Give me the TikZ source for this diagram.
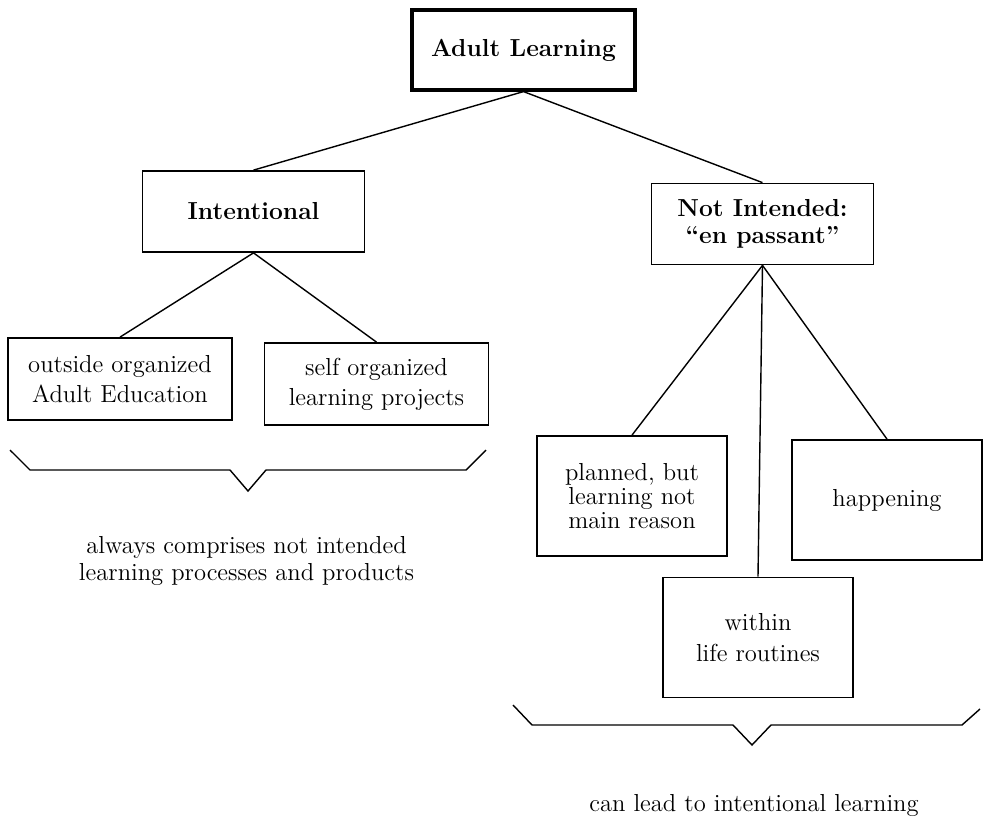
\documentclass[tikz,border=0pt]{standalone}
\usepackage{tikz}
\usetikzlibrary{shapes.geometric, arrows}
\tikzstyle{topbox} = [rectangle, minimum width=4.46cm, minimum height=1.6cm, text centered, draw=black, line width=1.8pt, font=\fontsize{14}{17}\selectfont\bfseries]
\tikzstyle{branch} = [rectangle, minimum width=4.44cm, minimum height=1.62cm, text centered, draw=black, line width=1pt, font=\fontsize{14}{15}\selectfont\bfseries]
\tikzstyle{leaf} = [rectangle, minimum width=4.48cm, minimum height=1.64cm, text centered, draw=black, line width=1pt, font=\fontsize{14}{17}\selectfont]
\tikzstyle{kind} = [rectangle, minimum width=3.8cm, minimum height=2.4cm, text centered, draw=black, line width=1pt, font=\fontsize{14}{18}\selectfont]
\tikzstyle{note} = [font=\fontsize{14}{15.5}\selectfont]
\tikzstyle{line} = [thick,-]
\tikzstyle{brace} = [thick,-]

\begin{document}
\begin{tikzpicture}
    \useasboundingbox (0,0) rectangle (19.68,-16.48);

    \node (adult) [topbox, align=center] at (10.47,-1.0) {Adult Learning};
    \node (intent) [branch, align=center] at (5.07,-4.23) {Intentional};
    \node (notint) [branch, align=center] at (15.25,-4.48) {Not Intended:\\ \textquotedblleft en passant\textquotedblright};
    \node (outside) [leaf, align=center] at (2.4,-7.58) {outside organized\\ Adult Education};
    \node (self) [leaf, align=center] at (7.53,-7.68) {self organized\\ learning projects};
    \node (planned) [kind, align=center, font=\fontsize{14}{13.5}\selectfont] at (12.64,-9.92) {planned, but\\ learning not\\ main reason};
    \node (happen) [kind, align=center] at (17.74,-10.0) {happening};
    \node (routine) [kind, align=center] at (15.16,-12.75) {within\\ life routines};
    \node (always) [note, align=center] at (4.93,-11.22) {always comprises not intended\\ learning processes and products};
    \node (lead) [note, align=center] at (15.08,-16.1) {can lead to intentional learning};

    \draw [line] (adult.south) -- (intent.north);
    \draw [line] (adult.south) -- (notint.north);
    \draw [line] (intent.south) -- (outside.north);
    \draw [line] (intent.south) -- (self.north);
    \draw [line] (notint.south) -- (planned.north);
    \draw [line] (notint.south) -- (routine.north);
    \draw [line] (notint.south) -- (happen.north);

    % braces under the two groups
    \draw [brace] (0.2,-9.0) -- (0.6,-9.4) -- (4.6,-9.4) -- (4.96,-9.82) -- (5.32,-9.4) -- (9.32,-9.4) -- (9.72,-9.0);
    \draw [brace] (10.26,-14.1) -- (10.64,-14.5) -- (14.66,-14.5) -- (15.04,-14.9) -- (15.42,-14.5) -- (19.24,-14.5) -- (19.6,-14.18);
\end{tikzpicture}
\end{document}
